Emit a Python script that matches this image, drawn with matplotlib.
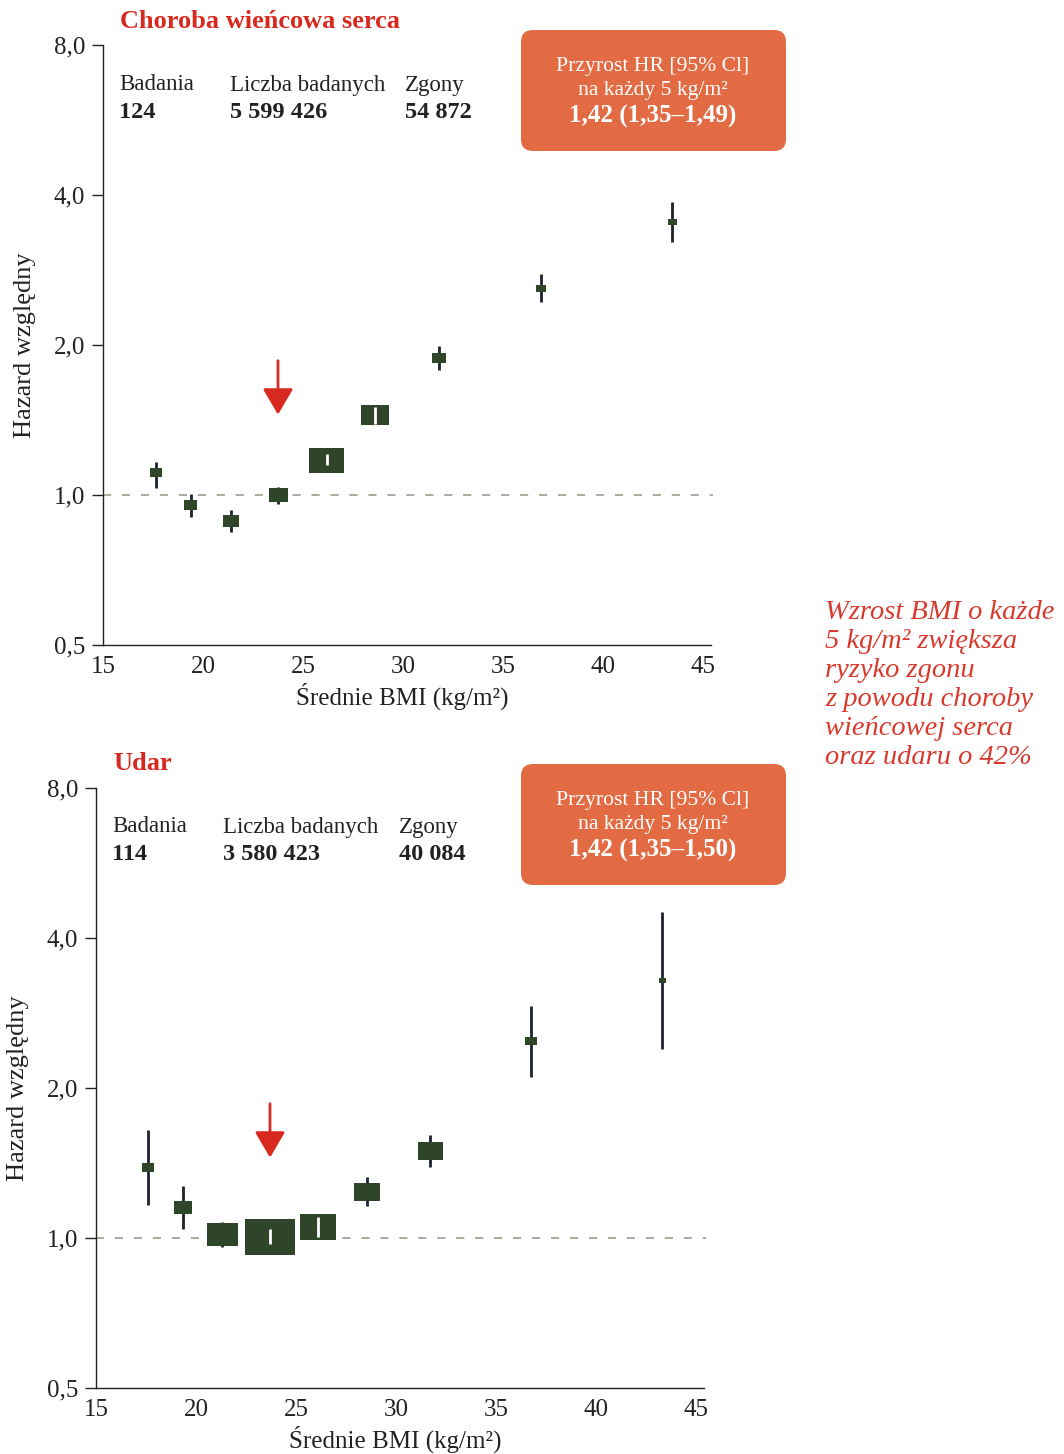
import matplotlib
matplotlib.use("Agg")
import matplotlib.pyplot as plt
import matplotlib.transforms as mtransforms
from matplotlib.patches import Rectangle, FancyBboxPatch
import numpy as np

# --- data ---
bmi_chd = [17.65, 19.4, 21.4, 23.75, 26.2, 28.6, 31.8, 36.9, 43.45]
hr_chd = [1.11, 0.955, 0.887, 1.0, 1.175, 1.447, 1.883, 2.60, 3.53]
lo_chd = [1.033, 0.903, 0.843, 0.96, 1.15, 1.39, 1.78, 2.44, 3.22]
hi_chd = [1.165, 1.005, 0.933, 1.04, 1.21, 1.50, 1.99, 2.78, 3.87]
w_chd = [1.44, 1.69, 2.56, 3.61, 12.25, 7.84, 1.96, 1.0, 0.81]

bmi_stroke = [17.58, 19.33, 21.3, 23.7, 26.08, 28.55, 31.7, 36.75, 43.3]
hr_stroke = [1.386, 1.15, 1.017, 1.006, 1.05, 1.237, 1.493, 2.486, 3.28]
lo_stroke = [1.165, 1.042, 0.96, 0.973, 1.006, 1.16, 1.39, 2.10, 2.39]
hi_stroke = [1.647, 1.273, 1.077, 1.041, 1.10, 1.325, 1.61, 2.92, 4.51]
w_stroke = [1.44, 3.24, 9.61, 25.0, 12.96, 6.76, 6.25, 1.44, 0.49]

yticks = [0.5, 1, 2, 4, 8]
ytick_labels = ["0,5", "1,0", "2,0", "4,0", "8,0"]
xticks = [15, 20, 25, 30, 35, 40, 45]

titles = ["Choroba wieńcowa serca", "Udar"]
n_studies = ["124", "114"]
n_people = ["5 599 426", "3 580 423"]
n_deaths = ["54 872", "40 084"]
hr_text = ["1,42 (1,35–1,49)", "1,42 (1,35–1,50)"]
ref_bmi = [23.75, 23.7]

# --- style ---
plt.rcParams["font.family"] = ["Liberation Serif", "DejaVu Serif"]
RED = "#d8291f"
ORANGE = "#e36b44"
BOX = "#2f4529"
CI = "#1d2130"
TXT = "#222222"

W, H = 1064, 1454
fig = plt.figure(figsize=(W / 100, H / 100), dpi=100)


def fx(x):
    return x / W


def fy(y):
    return 1 - y / H


def panel(left, top, bmi, hr, lo, hi, wt, idx):
    ax = fig.add_axes([fx(left), fy(top + 600), 608 / W, 600 / H])
    ax.set_yscale("log", base=2)
    ax.set_ylim(0.5, 8)
    ax.set_xlim(15, 45.4)
    ax.set_yticks(yticks)
    ax.set_yticklabels(ytick_labels)
    ax.yaxis.set_minor_locator(matplotlib.ticker.NullLocator())
    ax.set_xticks(xticks)
    for s in ["top", "right"]:
        ax.spines[s].set_visible(False)
    for s in ["left", "bottom"]:
        ax.spines[s].set_color(TXT)
        ax.spines[s].set_linewidth(1)
    ax.tick_params(axis="y", length=8, width=1, pad=5, labelsize=18, colors=TXT)
    ax.tick_params(axis="x", length=0, pad=8, labelsize=18, colors=TXT)

    ax.plot([15, 45.5], [1, 1], ls=(0, (4.5, 6)), color="#a3a596", lw=1.3,
            clip_on=False, zorder=1)

    ax.text(-0.128, 0.5, "Hazard względny", transform=ax.transAxes, rotation=90,
            ha="center", va="center", fontsize=19, color=TXT)
    ax.text(0.492, -0.085, "Średnie BMI (kg/m²)", transform=ax.transAxes,
            ha="center", va="center", fontsize=18, color=TXT)

    for x, y, l, h, w in zip(bmi, hr, lo, hi, wt):
        bw = 10 * np.sqrt(w) / 100  # inches
        bh = bw * 0.72
        off = mtransforms.ScaledTranslation(x, y, ax.transData)
        rect = Rectangle((-bw / 2, -bh / 2), bw, bh, facecolor=BOX,
                         edgecolor="none", transform=fig.dpi_scale_trans + off,
                         zorder=3)
        ax.add_patch(rect)
        pl = ax.transData.transform([(x, l), (x, h)])
        inside = (pl[1, 1] - pl[0, 1]) / 2 <= bh * 100 / 2 + 1
        if inside:
            ax.plot([x, x], [l, h], color="white", lw=2, zorder=4,
                    solid_capstyle="butt")
        else:
            ax.plot([x, x], [l, h], color=CI, lw=2, zorder=2,
                    solid_capstyle="butt")

    # reference arrow
    ax.annotate("", xy=(ref_bmi[idx], 1.45), xytext=(ref_bmi[idx], 1.86),
                arrowprops=dict(arrowstyle="-|>,head_length=0.8,head_width=0.47",
                                mutation_scale=20, lw=2, color=RED,
                                shrinkA=0, shrinkB=0), zorder=5)
    return ax


panel(103, 45, bmi_chd, hr_chd, lo_chd, hi_chd, w_chd, 0)
panel(96, 788, bmi_stroke, hr_stroke, lo_stroke, hi_stroke, w_stroke, 1)

# headers
for i, (tx, ty, cols) in enumerate([(120, 21, (119, 230, 405)),
                                    (113, 763, (112, 223, 399))]):
    fig.text(fx(tx), fy(ty + 1), titles[i], color=RED, fontsize=19,
             fontweight="bold", va="center", ha="left")
    for cx, lab, val in zip(cols, ["Badania", "Liczba badanych", "Zgony"],
                            [n_studies[i], n_people[i], n_deaths[i]]):
        fig.text(fx(cx), fy(ty + 64), lab, fontsize=16.5, color=TXT,
                 va="center", ha="left")
        fig.text(fx(cx), fy(ty + 91), val, fontsize=17.5, color=TXT,
                 fontweight="bold", va="center", ha="left")

    top = 30 if i == 0 else 764
    box = FancyBboxPatch((521, H - top - 121), 265, 121,
                         boxstyle="round,pad=0,rounding_size=12",
                         facecolor=ORANGE, edgecolor="none",
                         transform=mtransforms.IdentityTransform())
    fig.add_artist(box)
    fig.text(fx(653), fy(top + 36), "Przyrost HR [95% Cl]", color="white",
             fontsize=15.6, ha="center", va="center")
    fig.text(fx(653), fy(top + 60), "na każdy 5 kg/m²", color="white",
             fontsize=15.6, ha="center", va="center")
    fig.text(fx(653), fy(top + 86), hr_text[i], color="white",
             fontsize=18, fontweight="bold", ha="center", va="center")

fig.text(fx(825), fy(600),
         "Wzrost BMI o każde\n5 kg/m² zwiększa\nryzyko zgonu\nz powodu choroby\n"
         "wieńcowej serca\noraz udaru o 42%",
         color="#d83a2e", fontsize=20.5, style="italic", ha="left", va="top",
         linespacing=1.21)

fig.savefig("out.png", dpi=100)
